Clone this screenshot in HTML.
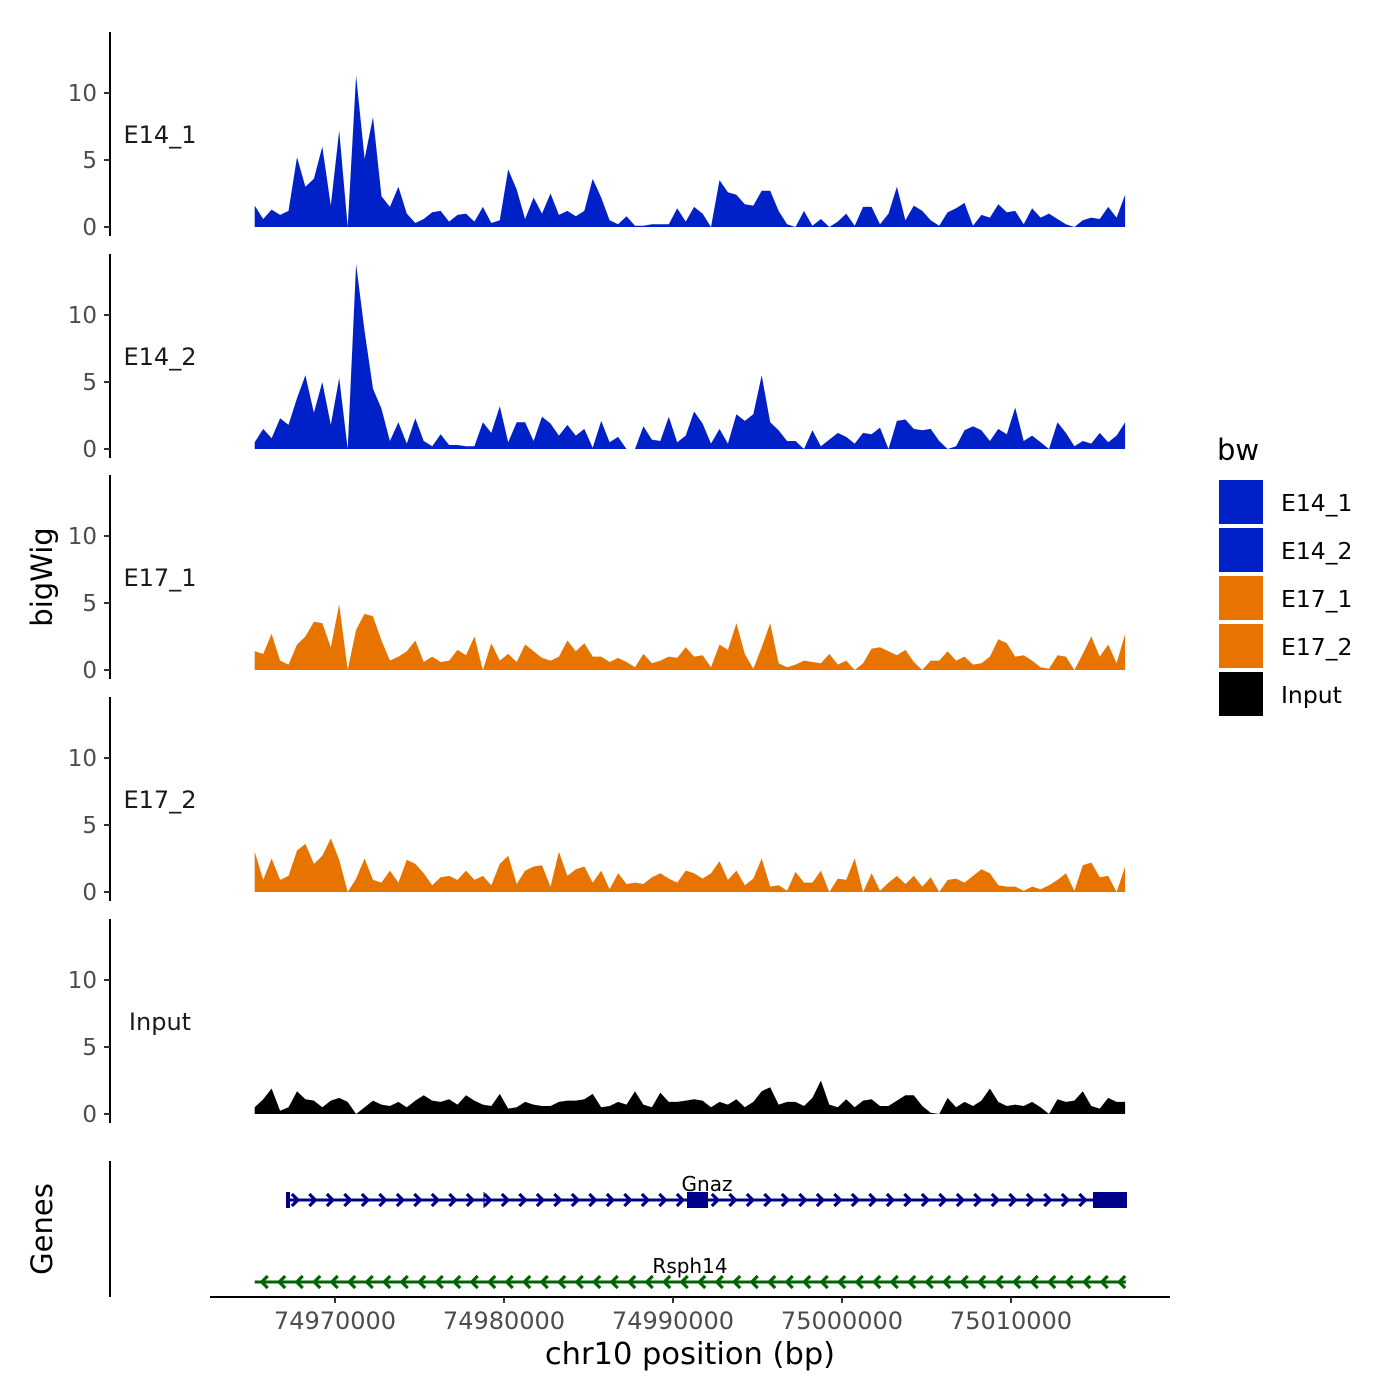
<!DOCTYPE html>
<html><head><meta charset="utf-8"><style>
body{margin:0;background:#fff;}
svg{display:block;font-family:"DejaVu Sans","Liberation Sans",sans-serif;}
</style></head><body>
<svg id="chart" width="1400" height="1400" viewBox="0 0 1400 1400" xmlns="http://www.w3.org/2000/svg"></svg>
<script>
const trackNames = ["E14_1","E14_2","E17_1","E17_2","Input"];
const trackColors = ["#0020c8","#0020c8","#e87400","#e87400","#000000"];
const yTicks = [0,5,10];
const xTicks = [74970000,74980000,74990000,75000000,75010000];
const binStart = 74965250, binSize = 500;
const e14_1 = [1.6,0.6,1.3,0.9,1.2,5.2,3.0,3.6,6.0,1.6,7.2,0,11.3,5.1,8.2,2.3,1.5,3.0,1.0,0.3,0.6,1.1,1.2,0.4,0.9,1.0,0.4,1.5,0.3,0.5,4.3,2.8,0.6,2.2,1.0,2.5,0.9,1.2,0.8,1.2,3.6,2.2,0.5,0.2,0.8,0.1,0.1,0.2,0.2,0.2,1.4,0.4,
 1.5,1.0,0,3.5,2.6,2.4,1.7,1.6,2.7,2.7,1.2,0.2,0,1.2,0.1,0.6,0,0.4,1.0,0.1,1.5,1.5,0.2,1.0,3.0,0.5,1.6,1.2,0.5,0.1,1.1,1.4,1.8,0.1,0.9,0.7,1.7,1.1,1.2,0.2,1.4,0.7,1.0,0.6,0.2,0,0.5,0.7,0.6,1.5,0.7,2.4];
const e14_2 = [0.5,1.5,0.8,2.3,1.8,3.8,5.5,2.7,5.0,1.8,5.3,0,13.8,8.8,4.5,3.0,0.6,2.0,0.4,2.3,0.6,0.2,1.1,0.3,0.3,0.2,0.2,2.0,1.2,3.2,0.5,2.0,2.0,0.6,2.4,1.9,1.0,1.8,1.0,1.5,0.1,2.1,0.5,0.9,0,0,1.7,0.7,0.6,2.4,0.5,1.0,
 2.8,1.9,0.4,1.5,0.4,2.6,2.1,2.6,5.5,2.0,1.4,0.6,0.6,0,1.4,0.2,0.7,1.2,0.9,0.4,1.2,1.1,1.6,0,2.1,2.2,1.5,1.4,1.5,0.6,0,0.2,1.4,1.7,1.4,0.6,1.5,1.1,3.1,0.6,1.0,0.5,0,2.0,1.2,0.2,0.6,0.4,1.2,0.5,1.0,2.0];
const e17_1 = [1.4,1.2,2.7,0.7,0.4,1.9,2.5,3.6,3.5,1.7,4.9,0,3.0,4.2,4.0,2.2,0.7,1.0,1.4,2.2,0.6,1.0,0.6,0.7,1.5,1.1,2.5,0,2.0,0.7,1.2,0.6,1.9,1.4,0.9,0.7,1.0,2.2,1.4,2.0,1.0,1.0,0.6,0.9,0.6,0.2,1.2,0.5,0.7,1.0,0.9,1.7,
 1.0,1.1,0.2,1.9,1.5,3.5,1.2,0.1,1.7,3.5,0.5,0.2,0.4,0.7,0.6,0.5,1.2,0.4,0.7,0,0.5,1.6,1.7,1.4,1.1,1.5,0.6,0,0.7,0.7,1.4,0.7,1.0,0.4,0.5,1.0,2.3,2.0,1.0,1.1,0.7,0.2,0.1,1.1,1.0,0,1.2,2.5,1.0,1.9,0.5,2.7];
const e17_2 = [3.0,0.9,2.5,0.9,1.2,3.1,3.6,2.1,2.7,4.0,2.4,0,1.0,2.5,0.9,0.7,1.6,0.7,2.4,2.1,1.4,0.5,1.1,1.2,0.9,1.6,0.9,1.2,0.5,2.1,2.7,0.6,1.6,1.9,2.0,0.4,3.0,1.2,1.7,1.9,0.7,1.6,0.2,1.4,0.6,0.7,0.6,1.1,1.4,1.0,0.7,1.6,
 1.4,1.0,1.4,2.3,0.9,1.6,0.5,1.0,2.5,0.4,0.5,0.1,1.5,0.7,0.7,1.6,0,1.0,0.9,2.5,0,1.4,0.1,0.7,1.2,0.6,1.2,0.4,1.1,0,0.9,1.0,0.7,1.2,1.7,1.4,0.5,0.4,0.4,0.1,0.4,0.2,0.5,0.9,1.4,0.1,2.0,2.2,1.1,1.2,0,1.9];
const input = [0.5,1.1,1.9,0.25,0.5,1.7,1.1,1.0,0.5,1.0,1.2,0.9,0,0.5,1.0,0.7,0.6,0.9,0.5,1.0,1.4,1.0,0.9,1.1,0.7,1.4,1.0,0.7,0.6,1.5,0.4,0.5,0.9,0.7,0.6,0.6,0.9,1.0,1.0,1.1,1.5,0.5,0.6,0.9,0.7,1.7,0.7,0.5,1.6,0.9,0.9,1.0,
 1.1,1.0,0.5,0.9,0.7,1.1,0.5,0.9,1.7,2.0,0.7,0.9,0.9,0.6,1.2,2.5,0.7,0.5,1.1,0.5,1.0,1.1,0.6,0.6,1.0,1.4,1.4,0.6,0.1,0,1.2,0.5,0.9,0.6,1.0,1.9,0.9,0.6,0.7,0.6,0.9,0.5,0,1.1,0.9,1.0,1.7,0.6,0.4,1.2,0.9,0.9];
const trackData = [e14_1,e14_2,e17_1,e17_2,input];
const geneNames = ["Gnaz","Rsph14"];
const geneStarts = [74967150,74965250];
const geneEnds = [75016800,75016800];

const NS="http://www.w3.org/2000/svg";
const svg=document.getElementById('chart');
function mk(tag,attrs,parent){const e=document.createElementNS(NS,tag);for(const k in attrs)e.setAttribute(k,attrs[k]);(parent||svg).appendChild(e);return e;}
function xScale(bp){return 335+(bp-74970000)*(1011-335)/40000;}
const baselines=[227,449,670,892,1114];
const pxPerUnit=13.4;
function yScale(v,i){return baselines[i]-v*pxPerUnit;}

trackData.forEach((vals,i)=>{
  const g=mk('g',{});
  
  
  const n=vals.length;
  let d='M'+xScale(binStart).toFixed(1)+','+baselines[i];
  vals.forEach((v,j)=>{d+=' L'+xScale(binStart+j*binSize).toFixed(1)+','+yScale(v,i).toFixed(1);});
  d+=' L'+xScale(binStart+(n-1)*binSize).toFixed(1)+','+baselines[i]+' Z';
  const p=mk('path',{d:d,fill:trackColors[i]},g);
  
  
  const top=baselines[i]-195, bot=baselines[i]+9;
  const ax=mk('line',{x1:110,x2:110,y1:top,y2:bot,stroke:'#000','stroke-width':2},g);
  
  
  yTicks.forEach(t=>{
    const y=yScale(t,i);
    mk('line',{x1:104,x2:110,y1:y,y2:y,stroke:'#333','stroke-width':2},g);
    const tx=mk('text',{x:97,y:y+8,'text-anchor':'end','font-size':23,fill:'#4d4d4d'},g);
    tx.textContent=t;
    
    
  });
  const lb=mk('text',{x:160,y:baselines[i]-84,'text-anchor':'middle','font-size':24,fill:'#1a1a1a'},g);
  lb.textContent=trackNames[i];
  
  
});

// genes panel
const gp=mk('g',{});


mk('line',{x1:110,x2:110,y1:1161,y2:1297,stroke:'#000','stroke-width':2},gp);
const geneY=[1200,1282], geneCol=['#00008b','#006400'];
geneNames.forEach((nm,k)=>{
  const x1=xScale(geneStarts[k]), x2=xScale(geneEnds[k]), y=geneY[k];
  const gg=mk('g',{},gp);
  
  
  mk('line',{x1:x1,x2:x2,y1:y,y2:y,stroke:geneCol[k],'stroke-width':3},gg);
  for(let x=x1+9;x<x2-4;x+=17.5){
    const pts=k===0?`${x-4},${y-6} ${x+2},${y} ${x-4},${y+6}`:`${x+4},${y-6} ${x-2},${y} ${x+4},${y+6}`;
    mk('polyline',{points:pts,fill:'none',stroke:geneCol[k],'stroke-width':3.2},gg);
  }
  const t=mk('text',{x:k===0?707:690,y:y-9,'text-anchor':'middle','font-size':20,fill:'#000'},gg);
  t.textContent=nm;
  
  
});
mk('rect',{x:286,y:1192,width:4,height:16,fill:'#00008b'},gp);
mk('line',{x1:484,x2:484,y1:1192,y2:1208,stroke:'#00008b','stroke-width':1},gp);
mk('rect',{x:687,y:1192,width:21,height:16,fill:'#00008b'},gp);
mk('rect',{x:1093,y:1192,width:34,height:16,fill:'#00008b'},gp);

// x axis
const xa=mk('g',{});


mk('line',{x1:210,x2:1170,y1:1297,y2:1297,stroke:'#000','stroke-width':2},xa);
xTicks.forEach(t=>{
  const x=xScale(t);
  mk('line',{x1:x,x2:x,y1:1297,y2:1303,stroke:'#333','stroke-width':2},xa);
  const tx=mk('text',{x:x,y:1329,'text-anchor':'middle','font-size':24,fill:'#4d4d4d'},xa);
  tx.textContent=t;
  
  
});
const xt=mk('text',{x:690,y:1364,'text-anchor':'middle','font-size':30.5,fill:'#000'});
xt.textContent='chr10 position (bp)';


const yt=mk('text',{transform:'translate(52,577) rotate(-90)','text-anchor':'middle','font-size':29,fill:'#000'});
yt.textContent='bigWig';


const gt=mk('text',{transform:'translate(52,1229) rotate(-90)','text-anchor':'middle','font-size':29,fill:'#000'});
gt.textContent='Genes';



// legend
const lg=mk('g',{});


const lt=mk('text',{x:1217,y:460,'font-size':29,fill:'#000'},lg);
lt.textContent='bw';


trackNames.forEach((nm,i)=>{
  const y=480+i*48;
  const e=mk('g',{},lg);
  
  
  mk('rect',{x:1219,y:y,width:44,height:44,fill:trackColors[i]},e);
  const t=mk('text',{x:1281,y:y+31,'font-size':23.5,fill:'#000'},e);
  t.textContent=nm;
});
</script>
</body></html>
